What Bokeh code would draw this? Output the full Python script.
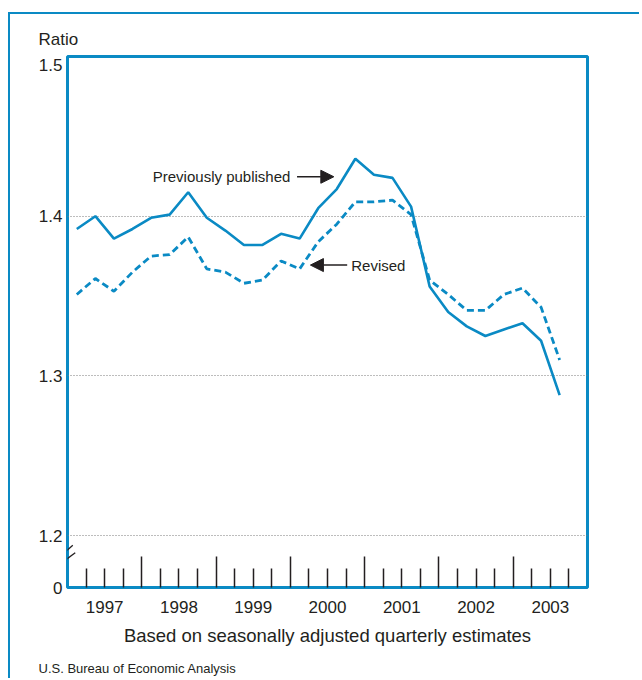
from bokeh.plotting import figure
from bokeh.models import (Range1d, FixedTicker, LinearAxis, Arrow, NormalHead, Label, Title,
                          CustomLabelingPolicy)
from bokeh.embed import file_html
from bokeh.resources import INLINE

# ---------------- data ----------------
QUARTERS = ["1997Q1", "1997Q2", "1997Q3", "1997Q4",
            "1998Q1", "1998Q2", "1998Q3", "1998Q4",
            "1999Q1", "1999Q2", "1999Q3", "1999Q4",
            "2000Q1", "2000Q2", "2000Q3", "2000Q4",
            "2001Q1", "2001Q2", "2001Q3", "2001Q4",
            "2002Q1", "2002Q2", "2002Q3", "2002Q4",
            "2003Q1", "2003Q2", "2003Q3"]
PREVIOUSLY_PUBLISHED = [1.392, 1.400, 1.386, 1.392, 1.399, 1.401, 1.415, 1.399,
                        1.391, 1.382, 1.382, 1.389, 1.386, 1.405, 1.417, 1.436,
                        1.426, 1.424, 1.406, 1.356, 1.340, 1.331, 1.325, 1.329,
                        1.333, 1.322, 1.288]
REVISED = [1.351, 1.361, 1.353, 1.365, 1.375, 1.376, 1.387, 1.367,
           1.365, 1.358, 1.360, 1.372, 1.367, 1.384, 1.395, 1.409,
           1.409, 1.410, 1.401, 1.360, 1.351, 1.341, 1.341, 1.351,
           1.355, 1.343, 1.310]
YEARS = [1997, 1998, 1999, 2000, 2001, 2002, 2003]
YEAR_LABELS = ["1997", "1998", "1999", "2000", "2001", "2002", "2003"]
Y_TICKS = [1.2, 1.3, 1.4, 1.5]
Y_TICK_LABELS = ["1.2", "1.3", "1.4", "1.5"]
Y_BREAK_LABEL = "0"

# ---------------- style ----------------
TEAL = "#0a8ac4"
TXT = "#231f20"
FONT = "Liberation Sans"
Y_BOTTOM = 1.1675         # value shown as "0" below the axis break
TOP_LABEL_SHIFT = 0.0055  # the top label sits just under the frame edge

xs = [int(q[:4]) + (int(q[-1]) - 0.5) / 4 for q in QUARTERS]

p = figure(width=631, height=666, output_backend="svg", toolbar_location=None,
           x_range=Range1d(YEARS[0], YEARS[-1] + 1), y_range=Range1d(Y_BOTTOM, 1.5),
           min_border_left=57, min_border_right=54, min_border_top=42, min_border_bottom=93)
p.margin = (12, 0, 0, 8)
p.styles = {"border-left": f"2px solid {TEAL}", "border-top": f"2px solid {TEAL}"}
p.background_fill_color = "white"
p.border_fill_color = "white"
p.outline_line_color = TEAL
p.outline_line_width = 3

# grid
p.xgrid.visible = False
p.ygrid.ticker = FixedTicker(ticks=Y_TICKS[:-1])
p.ygrid.grid_line_color = "#7a7a7a"
p.ygrid.grid_line_dash = "1 2"
p.ygrid.grid_line_width = 1

# y axis
yax = p.yaxis[0]
y_tick_pos = [Y_BOTTOM] + Y_TICKS[:-1] + [Y_TICKS[-1] - TOP_LABEL_SHIFT]
yax.ticker = FixedTicker(ticks=y_tick_pos)
yax.major_label_overrides = {t: l for t, l in zip(y_tick_pos, [Y_BREAK_LABEL] + Y_TICK_LABELS)}
yax.axis_line_color = None
yax.major_tick_in = 0
yax.major_tick_out = 0
yax.minor_tick_in = 0
yax.minor_tick_out = 0
yax.major_label_standoff = 5
yax.major_label_text_font = FONT
yax.major_label_text_font_size = "17px"
yax.major_label_text_color = TXT

# x axis A: tick marks only (tall at year boundaries, short at quarters)
xa = p.xaxis[0]
year_bounds = [y for y in YEARS[1:]]
quarter_bounds = [y + k / 4 for y in YEARS for k in (1, 2, 3)]
xa.ticker = FixedTicker(ticks=year_bounds, minor_ticks=quarter_bounds)
xa.axis_line_color = None
xa.major_tick_in = 31
xa.major_tick_out = 0
xa.minor_tick_in = 19
xa.minor_tick_out = 0
xa.major_tick_line_color = TXT
xa.minor_tick_line_color = TXT
xa.major_tick_line_width = 1.5
xa.minor_tick_line_width = 1.5
xa.major_label_text_font_size = "1px"
xa.major_label_standoff = 0
xa.major_label_policy = CustomLabelingPolicy(code="return []")

# x axis B: year labels at year middles
mids = [y + 0.5 for y in YEARS]
xb = LinearAxis(ticker=FixedTicker(ticks=mids, minor_ticks=[]),
                major_label_overrides={m: l for m, l in zip(mids, YEAR_LABELS)})
xb.axis_line_color = None
xb.major_tick_in = 0
xb.major_tick_out = 0
xb.minor_tick_in = 0
xb.minor_tick_out = 0
xb.major_label_standoff = 9
xb.major_label_text_font = FONT
xb.major_label_text_font_size = "17px"
xb.major_label_text_color = TXT
p.add_layout(xb, "below")

# subtitle under the year labels
sub = Title(text="Based on seasonally adjusted quarterly estimates", align="center",
            vertical_align="top", standoff=18,
            text_font=FONT, text_font_size="18.5px", text_font_style="normal", text_color=TXT)
p.add_layout(sub, "below")

# source note under the chart
src = Title(text="U.S. Bureau of Economic Analysis", align="left", offset=-29, standoff=4,
            vertical_align="bottom",
            text_font=FONT, text_font_size="13px", text_font_style="normal", text_color=TXT)
p.add_layout(src, "below")

# title
p.title.text = "Ratio"
p.title.align = "left"
p.title.offset = -29
p.title.standoff = 16
p.title.text_font = FONT
p.title.text_font_size = "17px"
p.title.text_font_style = "normal"
p.title.text_color = TXT

# data lines
p.line(xs, PREVIOUSLY_PUBLISHED, line_color=TEAL, line_width=2.6)
p.line(xs, REVISED, line_color=TEAL, line_width=2.8, line_dash="7 4")

# annotations
p.add_layout(Label(x=2000.0, y=1.4247, text="Previously published", text_align="right",
                   text_baseline="middle", text_font=FONT, text_font_size="15px", text_color=TXT))
p.add_layout(Arrow(end=NormalHead(size=13, fill_color=TXT, line_color=TXT),
                   x_start=2000.09, y_start=1.4247, x_end=2000.585, y_end=1.4247,
                   line_color=TXT, line_width=1.5))
p.add_layout(Label(x=2000.82, y=1.3694, text="Revised", text_align="left",
                   text_baseline="middle", text_font=FONT, text_font_size="15px", text_color=TXT))
p.add_layout(Arrow(end=NormalHead(size=13, fill_color=TXT, line_color=TXT),
                   x_start=2000.765, y_start=1.3694, x_end=2000.27, y_end=1.3694,
                   line_color=TXT, line_width=1.5))

# axis break marks
p.add_layout(Arrow(end=None, x_start=1996.892, y_start=1.1866, x_end=1997.071, y_end=1.1939,
                   line_color=TXT, line_width=1.3))
p.add_layout(Arrow(end=None, x_start=1996.923, y_start=1.1830, x_end=1997.104, y_end=1.1893,
                   line_color=TXT, line_width=1.3))

open("out.html", "w").write(file_html(p, INLINE))
